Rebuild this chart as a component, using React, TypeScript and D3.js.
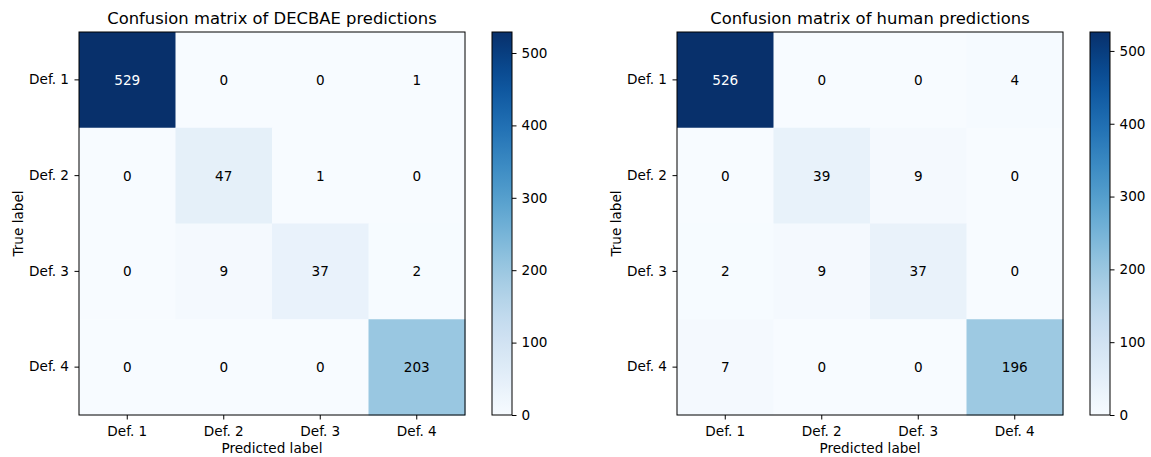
import { useEffect, useRef } from "react";
import * as d3 from "d3";

const classes = ["Def. 1", "Def. 2", "Def. 3", "Def. 4"];
const decbaeMatrix = [
  [529, 0, 0, 1],
  [0, 47, 1, 0],
  [0, 9, 37, 2],
  [0, 0, 0, 203],
];
const humanMatrix = [
  [526, 0, 0, 4],
  [0, 39, 9, 0],
  [2, 9, 37, 0],
  [7, 0, 0, 196],
];
const colorTicks = [0, 100, 200, 300, 400, 500];

const W = 1151;
const H = 457;
const FONT = "DejaVu Sans, sans-serif";
const TICK_FS = 13.6;
const TITLE_FS = 16.4;

interface PanelProps {
  title: string;
  matrix: number[][];
  left: number;
  id: string;
}

const drawPanel = (
  svg: d3.Selection<SVGSVGElement, unknown, null, undefined>,
  { title, matrix, left, id }: PanelProps
) => {
  const top = 32;
  const size = 386;
  const h = 383;
  const maxVal = d3.max(matrix.flat()) || 1;

  const g = svg.append("g").attr("transform", `translate(${left},${top})`);

  const x = d3.scaleBand().domain(classes).range([0, size]);
  const y = d3.scaleBand().domain(classes).range([0, h]);
  const color = d3.scaleSequential(d3.interpolateBlues).domain([0, maxVal]);

  const cells = matrix.flatMap((row, i) =>
    row.map((v, j) => ({ row: classes[i], col: classes[j], v }))
  );

  // cells
  g.selectAll(".cell")
    .data(cells)
    .join("rect")
    .attr("x", d => x(d.col) || 0)
    .attr("y", d => y(d.row) || 0)
    .attr("width", x.bandwidth() + 0.5)
    .attr("height", y.bandwidth() + 0.5)
    .attr("fill", d => color(d.v));

  // values
  g.selectAll(".val")
    .data(cells)
    .join("text")
    .attr("x", d => (x(d.col) || 0) + x.bandwidth() / 2)
    .attr("y", d => (y(d.row) || 0) + y.bandwidth() / 2)
    .attr("text-anchor", "middle")
    .attr("dominant-baseline", "central")
    .attr("font-family", FONT)
    .attr("font-size", TICK_FS)
    .attr("fill", d => (d.v > maxVal / 2 ? "white" : "black"))
    .text(d => d.v);

  // frame
  g.append("rect")
    .attr("width", size)
    .attr("height", h)
    .attr("fill", "none")
    .attr("stroke", "black")
    .attr("stroke-width", 1);

  // Axes
  const xAxis = g.append("g")
    .attr("transform", `translate(0,${h})`)
    .call(d3.axisBottom(x).tickSize(4.5).tickPadding(6.5));
  const yAxis = g.append("g")
    .call(d3.axisLeft(y).tickSize(4.5).tickPadding(5.5));
  [xAxis, yAxis].forEach(a => {
    a.select(".domain").remove();
    a.selectAll("text").attr("font-family", FONT).attr("font-size", TICK_FS).attr("fill", "black");
    a.selectAll("line").attr("stroke", "black");
  });

  // title
  g.append("text")
    .attr("x", size / 2)
    .attr("y", -8)
    .attr("text-anchor", "middle")
    .attr("font-family", FONT)
    .attr("font-size", TITLE_FS)
    .text(title);

  g.append("text")
    .attr("x", size / 2)
    .attr("y", h + 38)
    .attr("text-anchor", "middle")
    .attr("font-family", FONT)
    .attr("font-size", TICK_FS)
    .text("Predicted label");

  g.append("text")
    .attr("transform", `translate(-56,${h / 2}) rotate(-90)`)
    .attr("text-anchor", "middle")
    .attr("font-family", FONT)
    .attr("font-size", TICK_FS)
    .text("True label");

  // colorbar
  const cbX = size + 27;
  const cbW = 20;
  const cbScale = d3.scaleLinear().domain([0, maxVal]).range([h, 0]);

  const grad = svg.append("defs")
    .append("linearGradient")
    .attr("id", id)
    .attr("x1", 0).attr("y1", 1).attr("x2", 0).attr("y2", 0);
  d3.range(0, 1.0001, 0.05).forEach(t => {
    grad.append("stop")
      .attr("offset", t)
      .attr("stop-color", d3.interpolateBlues(t));
  });

  const cb = g.append("g").attr("transform", `translate(${cbX},0)`);
  cb.append("rect")
    .attr("width", cbW)
    .attr("height", h)
    .attr("fill", `url(#${id})`)
    .attr("stroke", "black")
    .attr("stroke-width", 1);
  const cbAxis = cb.append("g")
    .attr("transform", `translate(${cbW},0)`)
    .call(d3.axisRight(cbScale).tickValues(colorTicks).tickSize(4.5).tickPadding(5));
  cbAxis.select(".domain").remove();
  cbAxis.selectAll("text").attr("font-family", FONT).attr("font-size", TICK_FS).attr("fill", "black");
  cbAxis.selectAll("line").attr("stroke", "black");
};

const App = () => {
  const svgRef = useRef<SVGSVGElement | null>(null);

  useEffect(() => {
    if (!svgRef.current) return;
    const svg = d3.select(svgRef.current);
    svg.selectAll("*").remove();

    drawPanel(svg, { title: "Confusion matrix of DECBAE predictions", matrix: decbaeMatrix, left: 79, id: "gradA" });
    drawPanel(svg, { title: "Confusion matrix of human predictions", matrix: humanMatrix, left: 677, id: "gradB" });
  }, []);

  return (
    <svg
      ref={svgRef}
      width={W}
      height={H}
      style={{ position: "absolute", left: 0, top: 0, background: "white" }}
    />
  );
};

export default App;
